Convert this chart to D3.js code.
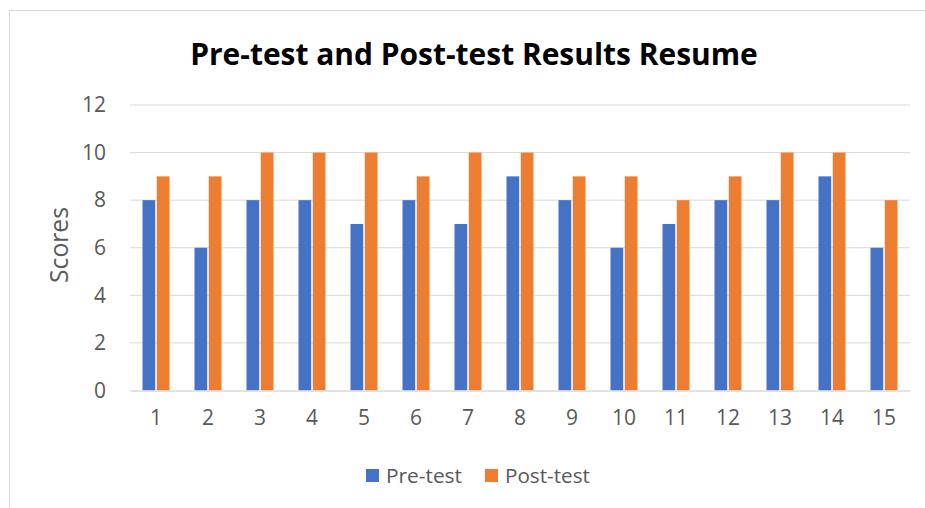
<!DOCTYPE html>
<html>
<head>
<meta charset="utf-8">
<script src="https://cdn.jsdelivr.net/npm/d3@7"></script>
<style>
  body { margin: 0; background: #fff; }
  text { font-family: "Open Sans", "Noto Sans", sans-serif; }
</style>
</head>
<body>
<div id="chart"></div>
<script>
// data
const students = ["1","2","3","4","5","6","7","8","9","10","11","12","13","14","15"];
const preTest  = [8, 6, 8, 8, 7, 8, 7, 9, 8, 6, 7, 8, 8, 9, 6];
const postTest = [9, 9, 10, 10, 10, 9, 10, 10, 9, 9, 8, 9, 10, 10, 8];
const seriesNames = ["Pre-test", "Post-test"];
const yTicks = [0, 2, 4, 6, 8, 10, 12];

const chart = {
  width: 925, height: 508,
  margin: { top: 105, bottom: 117.5, left: 130, right: 15 },
  colors: ["#4472C4", "#ED7D31"],
  tickFont: "21px"
};

const rows = students.map((s, i) => ({ student: s, values: [preTest[i], postTest[i]] }));

const svg = d3.select("#chart").append("svg")
  .attr("width", chart.width).attr("height", chart.height);

// shrink/grow a text so it spans the width seen in the picture
function fitWidth(sel, size, target){
  sel.style("font-size", size + "px");
  const w = sel.node().getComputedTextLength();
  sel.style("font-size", (size * target / w) + "px");
}

// outer border of the chart area
svg.append("rect")
  .attr("x", 9.5).attr("y", 10.5)
  .attr("width", 930).attr("height", 520)
  .attr("fill", "#fff").attr("stroke", "#d9d9d9");

const x = d3.scaleBand()
  .domain(students)
  .range([chart.margin.left, chart.width - chart.margin.right]);

const xInner = d3.scaleBand()
  .domain([0, 1])
  .range([x.bandwidth() / 2 - 13.5, x.bandwidth() / 2 + 13.5])
  .paddingInner(0.11);

const y = d3.scaleLinear()
  .domain([0, 12])
  .range([chart.height - chart.margin.bottom, chart.margin.top]);

// gridlines
svg.append("g").attr("id", "grid")
  .selectAll("line")
  .data(yTicks.filter(d => d > 0))
  .enter().append("line")
  .attr("x1", chart.margin.left).attr("x2", chart.width - chart.margin.right)
  .attr("y1", d => y(d)).attr("y2", d => y(d))
  .attr("stroke", "#d9d9d9").attr("stroke-width", 1);

// y axis labels
const yAxis = d3.axisLeft(y).tickValues(yTicks).tickSize(0).tickPadding(24);
const yg = svg.append("g")
  .attr("transform", "translate(" + chart.margin.left + ",0)")
  .call(yAxis);
yg.select(".domain").remove();
yg.selectAll("text")
  .attr("fill", "#595959").style("font-size", chart.tickFont)
  .style("font-family", "'Open Sans', sans-serif");

// bars
const groups = svg.append("g").attr("id", "bars")
  .selectAll(".student")
  .data(rows)
  .enter().append("g")
  .attr("class", "student")
  .attr("transform", d => "translate(" + x(d.student) + ",0)");

groups.selectAll("rect")
  .data(d => d.values)
  .enter().append("rect")
  .attr("x", (v, i) => xInner(i))
  .attr("width", xInner.bandwidth())
  .attr("y", v => y(v))
  .attr("height", v => y(0) - y(v))
  .attr("fill", (v, i) => chart.colors[i]);

// x axis
const xAxis = d3.axisBottom(x).tickSize(0).tickPadding(20);
const xg = svg.append("g")
  .attr("transform", "translate(0," + y(0) + ")")
  .call(xAxis);
xg.select(".domain").attr("stroke", "#d9d9d9").attr("stroke-width", 1.5);
xg.selectAll("text")
  .attr("fill", "#595959").style("font-size", chart.tickFont)
  .style("font-family", "'Open Sans', sans-serif");

// y axis title
const yTitle = svg.append("text")
  .attr("transform", "translate(68,245) rotate(-90)")
  .attr("text-anchor", "middle")
  .attr("fill", "#595959")
  .text("Scores");
fitWidth(yTitle, 20, 76);

// title
const title = svg.append("text")
  .attr("x", 474).attr("y", 65)
  .attr("text-anchor", "middle")
  .attr("fill", "#000")
  .style("font-weight", "bold")
  .text("Pre-test and Post-test Results Resume");
fitWidth(title, 26, 568);

// legend
const legend = svg.append("g").attr("id", "legend")
  .selectAll(".legend-item")
  .data(seriesNames)
  .enter().append("g")
  .attr("class", "legend-item")
  .attr("transform", (d, i) => "translate(" + [366, 485][i] + ",469)");

legend.append("rect")
  .attr("width", 13).attr("height", 13)
  .attr("fill", (d, i) => chart.colors[i]);

legend.append("text")
  .attr("x", 20).attr("y", 13.5)
  .attr("fill", "#595959")
  .text(d => d)
  .each(function(d, i){ fitWidth(d3.select(this), 18, [76, 85][i]); });
</script>
</body>
</html>
